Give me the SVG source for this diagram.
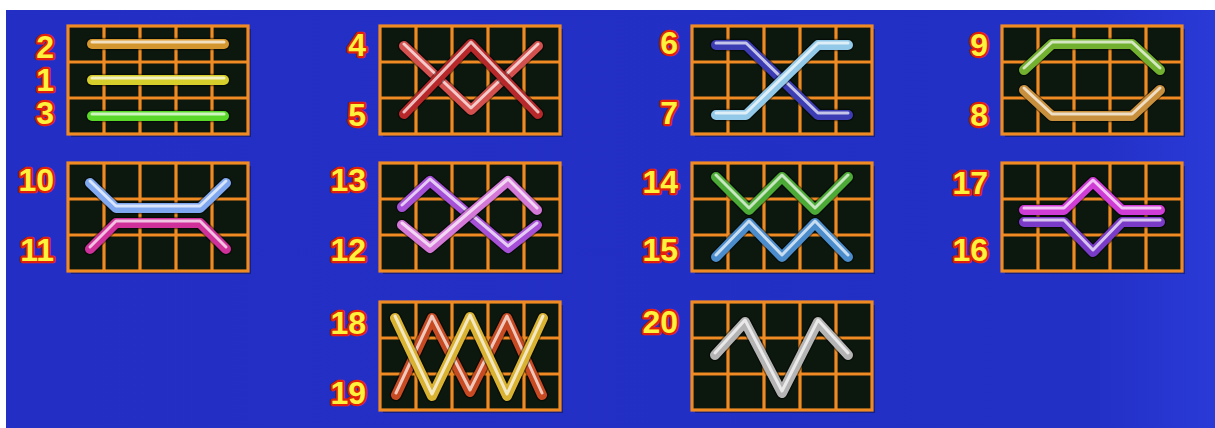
<svg xmlns="http://www.w3.org/2000/svg" xmlns:xlink="http://www.w3.org/1999/xlink" width="1215" height="428" viewBox="0 0 1215 428">
<style>
.lb{font-family:"Liberation Sans",Arial,sans-serif;font-weight:bold;font-size:32px;fill:#fff23c;stroke:#e0200a;stroke-width:4.5px;paint-order:stroke;stroke-linejoin:round;text-anchor:end}
.gl{stroke:#f08a22;stroke-width:3.2;fill:none}
.sh{fill:none;stroke:#000;stroke-opacity:.45;stroke-width:12.5;stroke-linecap:round;stroke-linejoin:round}
.t{fill:none;stroke-width:10;stroke-linecap:round;stroke-linejoin:round}
.hl{fill:none;stroke:#fff;stroke-opacity:.7;stroke-width:3;stroke-linecap:round;stroke-linejoin:round}
</style>
<defs>
<linearGradient id="bg" x1="0" y1="0" x2="1" y2="0">
<stop offset="0" stop-color="#232ec4"/><stop offset=".9" stop-color="#2230c6"/><stop offset="1" stop-color="#2a3ad6"/>
</linearGradient>
<g id="grid">
<rect x="3" y="3" width="180" height="108" fill="#0a0f40" opacity=".5"/>
<rect x="0" y="0" width="180" height="108" fill="#0c170d"/>
<path class="gl" d="M36 0V108M72 0V108M108 0V108M144 0V108M0 36H180M0 72H180"/>
<rect class="gl" x="0" y="0" width="180" height="108" stroke="#ee7d1c"/>
</g>
<path id="l2" d="M24 18H156"/>
<path id="l1" d="M24 54H156"/>
<path id="l3" d="M24 90H156"/>
<path id="l4" d="M24 20L91 84L158 20"/>
<path id="l5" d="M24 88L91 18L158 88"/>
<path id="l6" d="M24 19H54L126 89H156"/>
<path id="l7" d="M24 89H54L126 19H156"/>
<path id="l9" d="M22 44L50 18H130L158 44"/>
<path id="l8" d="M22 64L50 90H130L158 64"/>
<path id="l10" d="M22 20L48 45H132L158 20"/>
<path id="l11" d="M22 86L48 60H132L158 86"/>
<path id="l13" d="M22 44L50 18L128 85L157 62"/>
<path id="l12" d="M22 62L50 85L128 18L157 47"/>
<path id="l14" d="M24 14L57 47L90 14L123 47L156 14"/>
<path id="l15" d="M24 94L57 60L90 94L123 60L156 94"/>
<path id="l17" d="M22 47H62L91 19L120 47H158"/>
<path id="l16" d="M22 59H62L91 89L120 59H158"/>
<path id="l19" d="M16 93L52 16L90 90L127 16L162 93"/>
<path id="l18" d="M15 16L52 94L90 15L127 94L163 16"/>
<path id="l20" d="M23 53L53 20L90 91L126 20L156 53"/>
</defs>
<rect x="0" y="0" width="1215" height="428" fill="#fff"/>
<rect x="6" y="10" width="1209" height="418" fill="url(#bg)"/>
<g id="connectors"/>
<g id="panel-1-2-3" transform="translate(68,26)">
<use href="#grid"/>
<use href="#l2" class="sh"/><use href="#l2" class="t" stroke="#d4962e"/><use href="#l2" class="hl" transform="translate(0,-2)"/>
<use href="#l1" class="sh"/><use href="#l1" class="t" stroke="#d6ce2a"/><use href="#l1" class="hl" transform="translate(0,-2)"/>
<use href="#l3" class="sh"/><use href="#l3" class="t" stroke="#5ad82a"/><use href="#l3" class="hl" transform="translate(0,-2)"/>
<text class="lb" x="-14" y="32">2</text>
<text class="lb" x="-14" y="65">1</text>
<text class="lb" x="-14" y="98">3</text>
</g>
<g id="panel-4-5" transform="translate(380,26)">
<use href="#grid"/>
<use href="#l4" class="sh"/><use href="#l4" class="t" stroke="#d4504e"/><use href="#l4" class="hl" transform="translate(0,-2)"/>
<use href="#l5" class="sh"/><use href="#l5" class="t" stroke="#b8282a"/><use href="#l5" class="hl" transform="translate(0,-2)"/>
<text class="lb" x="-14" y="30">4</text>
<text class="lb" x="-14" y="100">5</text>
</g>
<g id="panel-6-7" transform="translate(692,26)">
<use href="#grid"/>
<use href="#l6" class="sh"/><use href="#l6" class="t" stroke="#3c3cb4"/><use href="#l6" class="hl" transform="translate(0,-2)"/>
<use href="#l7" class="sh"/><use href="#l7" class="t" stroke="#92c8e8"/><use href="#l7" class="hl" transform="translate(0,-2)"/>
<text class="lb" x="-14" y="28">6</text>
<text class="lb" x="-14" y="98">7</text>
</g>
<g id="panel-9-8" transform="translate(1002,26)">
<use href="#grid"/>
<use href="#l9" class="sh"/><use href="#l9" class="t" stroke="#72b030"/><use href="#l9" class="hl" transform="translate(0,-2)"/>
<use href="#l8" class="sh"/><use href="#l8" class="t" stroke="#c8903c"/><use href="#l8" class="hl" transform="translate(0,-2)"/>
<text class="lb" x="-14" y="30">9</text>
<text class="lb" x="-14" y="100">8</text>
</g>
<g id="panel-10-11" transform="translate(68,163)">
<use href="#grid"/>
<use href="#l10" class="sh"/><use href="#l10" class="t" stroke="#80a8f0"/><use href="#l10" class="hl" transform="translate(0,-2)"/>
<use href="#l11" class="sh"/><use href="#l11" class="t" stroke="#d0309a"/><use href="#l11" class="hl" transform="translate(0,-2)"/>
<text class="lb" x="-14" y="28">10</text>
<text class="lb" x="-14" y="98">11</text>
</g>
<g id="panel-13-12" transform="translate(380,163)">
<use href="#grid"/>
<use href="#l13" class="sh"/><use href="#l13" class="t" stroke="#a650d8"/><use href="#l13" class="hl" transform="translate(0,-2)"/>
<use href="#l12" class="sh"/><use href="#l12" class="t" stroke="#d478d8"/><use href="#l12" class="hl" transform="translate(0,-2)"/>
<text class="lb" x="-14" y="28">13</text>
<text class="lb" x="-14" y="98">12</text>
</g>
<g id="panel-14-15" transform="translate(692,163)">
<use href="#grid"/>
<use href="#l14" class="sh"/><use href="#l14" class="t" stroke="#4caa36"/><use href="#l14" class="hl" transform="translate(0,-2)"/>
<use href="#l15" class="sh"/><use href="#l15" class="t" stroke="#4a8ccc"/><use href="#l15" class="hl" transform="translate(0,-2)"/>
<text class="lb" x="-14" y="30">14</text>
<text class="lb" x="-14" y="98">15</text>
</g>
<g id="panel-17-16" transform="translate(1002,163)">
<use href="#grid"/>
<use href="#l16" class="sh"/><use href="#l16" class="t" stroke="#7a3cc8"/><use href="#l16" class="hl" transform="translate(0,-2)"/>
<use href="#l17" class="sh"/><use href="#l17" class="t" stroke="#d03cd6"/><use href="#l17" class="hl" transform="translate(0,-2)"/>
<text class="lb" x="-14" y="31">17</text>
<text class="lb" x="-14" y="98">16</text>
</g>
<g id="panel-18-19" transform="translate(380,302)">
<use href="#grid"/>
<use href="#l19" class="sh"/><use href="#l19" class="t" stroke="#c84a22"/><use href="#l19" class="hl" transform="translate(0,-2)" stroke-opacity=".4"/>
<use href="#l18" class="sh"/><use href="#l18" class="t" stroke="#d8b230"/><use href="#l18" class="hl" transform="translate(0,-2)"/>
<text class="lb" x="-14" y="32">18</text>
<text class="lb" x="-14" y="102">19</text>
</g>
<g id="panel-20" transform="translate(692,302)">
<use href="#grid"/>
<use href="#l20" class="sh"/><use href="#l20" class="t" stroke="#b4b4b4"/><use href="#l20" class="hl" transform="translate(0,-2)"/>
<text class="lb" x="-14" y="31">20</text>
</g>
</svg>
